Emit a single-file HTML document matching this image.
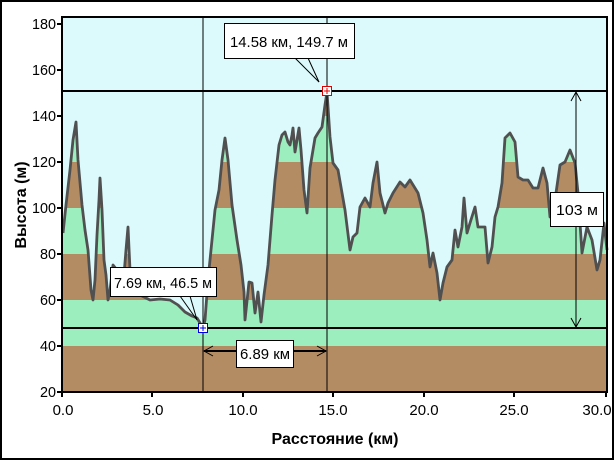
<!DOCTYPE html>
<html><head><meta charset="utf-8"><style>
html,body{margin:0;padding:0;background:#fff;}
svg{display:block;font-family:"Liberation Sans",sans-serif;}
</style></head><body>
<svg width="614" height="460" viewBox="0 0 614 460">
<rect x="1" y="1" width="612" height="458" fill="#fff" stroke="#000" stroke-width="2"/>
<defs>
<clipPath id="prof"><polygon points="62,392 63,233 66,205 70,170 73,140 76,122 78,160 82,205 85,230 88,250 91,290 93,300 95,280 97,235 99,200 100,178 102,210 104,260 106,275 108,300 110,290 113,265 117,270 121,290 124,275 126,250 128,227 130,270 133,290 140,295 150,300 160,299 170,300 178,305 185,312 192,316 197,318 203,328 205,320 208,280 212,240 215,210 219,190 222,160 225,138 228,160 232,205 237,240 241,265 244,292 245,320 249,282 252,283 255,313 258,292 261,322 264,295 268,265 272,215 275,180 279,145 282,135 285,132 288,142 290,145 292,135 293,128 295,152 297,140 299,128 301,150 304,190 307,213 310,168 315,138 318,133 322,127 325,105 327,92 330,137 333,163 338,170 345,210 350,250 353,237 357,233 360,207 365,198 370,207 373,183 377,162 380,193 385,213 388,203 393,193 400,182 405,187 410,180 418,193 423,213 427,240 430,267 433,253 437,273 440,300 443,283 447,267 452,260 455,230 458,247 462,227 464,198 467,233 470,223 475,207 478,227 485,227 488,263 492,247 495,217 498,207 502,183 505,138 510,133 515,142 518,177 523,180 528,180 533,188 538,188 543,168 547,183 550,217 555,200 560,165 565,162 570,150 575,163 578,193 582,253 587,227 592,240 597,270 600,260 604,223 607,250 607,392"/></clipPath>
</defs>
<rect x="62" y="17" width="545" height="375" fill="#dcfafb"/>
<g clip-path="url(#prof)">
<rect x="62" y="346" width="545" height="46" fill="#b48c64"/>
<rect x="62" y="300" width="545" height="46" fill="#9ceebe"/>
<rect x="62" y="254" width="545" height="46" fill="#b48c64"/>
<rect x="62" y="208" width="545" height="46" fill="#9ceebe"/>
<rect x="62" y="162" width="545" height="46" fill="#b48c64"/>
<rect x="62" y="116" width="545" height="46" fill="#9ceebe"/>
<rect x="62" y="70" width="545" height="46" fill="#b48c64"/>
</g>
<polyline fill="none" stroke="#505050" stroke-width="2.8" stroke-linejoin="round" points="63,233 66,205 70,170 73,140 76,122 78,160 82,205 85,230 88,250 91,290 93,300 95,280 97,235 99,200 100,178 102,210 104,260 106,275 108,300 110,290 113,265 117,270 121,290 124,275 126,250 128,227 130,270 133,290 140,295 150,300 160,299 170,300 178,305 185,312 192,316 197,318 203,328 205,320 208,280 212,240 215,210 219,190 222,160 225,138 228,160 232,205 237,240 241,265 244,292 245,320 249,282 252,283 255,313 258,292 261,322 264,295 268,265 272,215 275,180 279,145 282,135 285,132 288,142 290,145 292,135 293,128 295,152 297,140 299,128 301,150 304,190 307,213 310,168 315,138 318,133 322,127 325,105 327,92 330,137 333,163 338,170 345,210 350,250 353,237 357,233 360,207 365,198 370,207 373,183 377,162 380,193 385,213 388,203 393,193 400,182 405,187 410,180 418,193 423,213 427,240 430,267 433,253 437,273 440,300 443,283 447,267 452,260 455,230 458,247 462,227 464,198 467,233 470,223 475,207 478,227 485,227 488,263 492,247 495,217 498,207 502,183 505,138 510,133 515,142 518,177 523,180 528,180 533,188 538,188 543,168 547,183 550,217 555,200 560,165 565,162 570,150 575,163 578,193 582,253 587,227 592,240 597,270 600,260 604,223 607,250"/>
<rect x="62" y="17" width="545" height="375" fill="none" stroke="#000" stroke-width="2"/>
<line x1="62" y1="91" x2="607" y2="91" stroke="#000" stroke-width="2"/>
<line x1="62" y1="328" x2="607" y2="328" stroke="#000" stroke-width="2"/>
<line x1="203" y1="17" x2="203" y2="392" stroke="#000" stroke-width="1"/>
<line x1="327" y1="17" x2="327" y2="392" stroke="#000" stroke-width="1"/>
<line x1="576" y1="92" x2="576" y2="327" stroke="#000"/>
<polyline points="571,101 576,92 581,101" fill="none" stroke="#000"/>
<polyline points="571,318 576,327 581,318" fill="none" stroke="#000"/>
<line x1="204" y1="351" x2="326" y2="351" stroke="#000" stroke-width="2"/>
<polyline points="213,346 204,351 213,356" fill="none" stroke="#000"/>
<polyline points="317,346 326,351 317,356" fill="none" stroke="#000"/>
<rect x="322.5" y="86.5" width="9" height="9" fill="#fff" stroke="#e00000"/>
<line x1="324" y1="91" x2="330" y2="91" stroke="#e00000"/><line x1="327" y1="88" x2="327" y2="94" stroke="#e00000"/>
<rect x="198.5" y="323.5" width="9" height="9" fill="#fff" stroke="#0000e0"/>
<line x1="200" y1="328" x2="206" y2="328" stroke="#0000e0"/><line x1="203" y1="325" x2="203" y2="331" stroke="#0000e0"/>
<line x1="295" y1="58" x2="319" y2="82" stroke="#000"/><line x1="308" y1="58" x2="319" y2="82" stroke="#000"/>
<rect x="224.5" y="23.5" width="130" height="35" fill="#fff" stroke="#000"/>
<text x="230" y="47" font-size="15" textLength="118" lengthAdjust="spacingAndGlyphs">14.58 км, 149.7 м</text>
<line x1="180" y1="296" x2="197" y2="320" stroke="#000"/><line x1="190" y1="296" x2="197" y2="320" stroke="#000"/>
<rect x="110.5" y="267.5" width="106" height="29" fill="#fff" stroke="#000"/>
<text x="114" y="288" font-size="15" textLength="98" lengthAdjust="spacingAndGlyphs">7.69 км, 46.5 м</text>
<rect x="550.5" y="192.5" width="53" height="34" fill="#fff" stroke="#000"/>
<text x="556" y="215" font-size="15" textLength="42" lengthAdjust="spacingAndGlyphs">103 м</text>
<rect x="236.5" y="340.5" width="57" height="27" fill="#fff" stroke="#000"/>
<text x="240" y="359" font-size="15" textLength="50" lengthAdjust="spacingAndGlyphs">6.89 км</text>
<g font-size="15" text-anchor="end">
<g stroke="#000" stroke-width="2">
<line x1="57" y1="24" x2="62" y2="24"/><line x1="57" y1="70" x2="62" y2="70"/><line x1="57" y1="116" x2="62" y2="116"/><line x1="57" y1="162" x2="62" y2="162"/><line x1="57" y1="208" x2="62" y2="208"/><line x1="57" y1="254" x2="62" y2="254"/><line x1="57" y1="300" x2="62" y2="300"/><line x1="57" y1="346" x2="62" y2="346"/><line x1="57" y1="392" x2="62" y2="392"/>
</g>
<text x="56" y="29" textLength="24" lengthAdjust="spacingAndGlyphs">180</text>
<text x="56" y="75" textLength="24" lengthAdjust="spacingAndGlyphs">160</text>
<text x="56" y="121" textLength="24" lengthAdjust="spacingAndGlyphs">140</text>
<text x="56" y="167" textLength="24" lengthAdjust="spacingAndGlyphs">120</text>
<text x="56" y="213" textLength="24" lengthAdjust="spacingAndGlyphs">100</text>
<text x="56" y="259" textLength="16" lengthAdjust="spacingAndGlyphs">80</text>
<text x="56" y="305" textLength="16" lengthAdjust="spacingAndGlyphs">60</text>
<text x="56" y="351" textLength="16" lengthAdjust="spacingAndGlyphs">40</text>
<text x="56" y="397" textLength="16" lengthAdjust="spacingAndGlyphs">20</text>
</g>
<g stroke="#000" stroke-width="2">
<line x1="62" y1="392" x2="62" y2="397"/><line x1="152" y1="392" x2="152" y2="397"/><line x1="243" y1="392" x2="243" y2="397"/><line x1="333" y1="392" x2="333" y2="397"/><line x1="424" y1="392" x2="424" y2="397"/><line x1="514" y1="392" x2="514" y2="397"/><line x1="606" y1="392" x2="606" y2="397"/>
</g>
<g font-size="15" text-anchor="middle">
<text x="63" y="415">0.0</text><text x="153" y="415">5.0</text><text x="243" y="415">10.0</text><text x="333" y="415">15.0</text><text x="424" y="415">20.0</text><text x="514" y="415">25.0</text><text x="597" y="415">30.0</text>
</g>
<text x="335" y="444" font-size="16" font-weight="bold" text-anchor="middle">Расстояние  (км)</text>
<text transform="translate(26,205) rotate(-90)" font-size="16" font-weight="bold" text-anchor="middle">Высота (м)</text>
</svg>
</body></html>
